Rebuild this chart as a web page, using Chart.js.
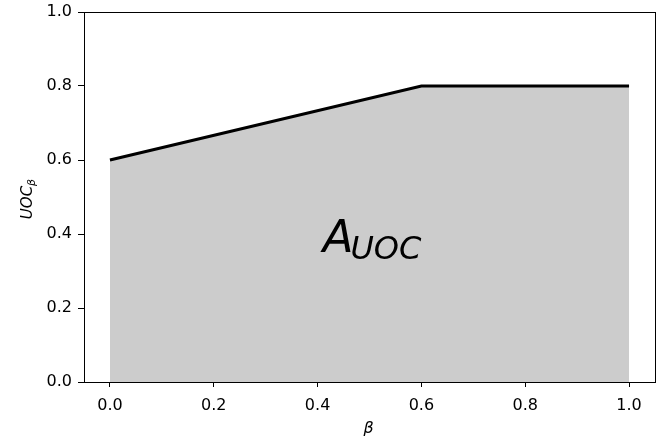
<!DOCTYPE html>
<html>
<head>
<meta charset="utf-8">
<script src="https://cdn.jsdelivr.net/npm/chart.js@4"></script>
<style>
html,body{margin:0;padding:0;background:#fff;}
canvas{display:block;}
</style>
</head>
<body>
<canvas id="c" width="667" height="443"></canvas>
<script>
const betaValues = [0.0, 0.6, 1.0];
const uocValues = [0.6, 0.8, 0.8];
const xTickValues = [0.0, 0.2, 0.4, 0.6, 0.8, 1.0];
const yTickValues = [0.0, 0.2, 0.4, 0.6, 0.8, 1.0];
const xLabel = 'β';
const yLabelMain = 'UOC';
const yLabelSub = 'β';
const areaLabelMain = 'A';
const areaLabelSub = 'UOC';
const areaLabelPos = [0.5, 0.4];

const FONT = '"DejaVu Sans", sans-serif';

const decorPlugin = {
  id: 'decor',
  afterDraw(chart) {
    const ctx = chart.ctx;
    const a = chart.chartArea;
    const xs = chart.scales.x, ys = chart.scales.y;
    ctx.save();
    ctx.strokeStyle = '#000';
    ctx.lineWidth = 1;
    ctx.strokeRect(Math.round(a.left) + 0.5, Math.round(a.top) + 0.5,
                   Math.round(a.right - a.left), Math.round(a.bottom - a.top));
    const cx = xs.getPixelForValue(areaLabelPos[0]);
    const cy = ys.getPixelForValue(areaLabelPos[1]);
    ctx.fillStyle = '#000';
    ctx.textBaseline = 'alphabetic';
    ctx.textAlign = 'left';
    const mainFont = 'italic 45px ' + FONT;
    const subFont = 'italic 32px ' + FONT;
    ctx.font = mainFont;
    const wA = ctx.measureText(areaLabelMain).width;
    ctx.font = subFont;
    const wS = ctx.measureText(areaLabelSub).width;
    const x0 = cx - (wA + wS) / 2 + 4;
    ctx.font = mainFont;
    ctx.fillText(areaLabelMain, x0, cy + 18);
    ctx.font = subFont;
    ctx.fillText(areaLabelSub, x0 + wA - 3, cy + 25);
    ctx.font = 'italic 16px ' + FONT;
    ctx.textAlign = 'center';
    ctx.fillText(xLabel, cx - 1, 433);
    ctx.translate(32, (a.top + a.bottom) / 2 + 2);
    ctx.rotate(-Math.PI / 2);
    ctx.font = 'italic 15px ' + FONT;
    const wM = ctx.measureText(yLabelMain).width;
    ctx.font = 'italic 11px ' + FONT;
    const wB = ctx.measureText(yLabelSub).width;
    const sx = -(wM + wB) / 2;
    ctx.textAlign = 'left';
    ctx.font = 'italic 15px ' + FONT;
    ctx.fillText(yLabelMain, sx, 0);
    ctx.font = 'italic 11px ' + FONT;
    ctx.fillText(yLabelSub, sx + wM, 3);
    ctx.restore();
  }
};

new Chart(document.getElementById('c'), {
  type: 'line',
  data: {
    datasets: [{
      data: betaValues.map((b, i) => ({x: b, y: uocValues[i]})),
      borderColor: '#000',
      borderWidth: 3,
      backgroundColor: '#cccccc',
      fill: 'origin',
      pointRadius: 0,
      tension: 0
    }]
  },
  options: {
    responsive: false,
    devicePixelRatio: 1,
    animation: false,
    layout: {padding: {left: 0, right: 12, top: 12, bottom: 0}},
    plugins: {legend: {display: false}, tooltip: {enabled: false}},
    scales: {
      x: {
        type: 'linear',
        min: -0.05,
        max: 1.05,
        afterBuildTicks(s) { s.ticks = xTickValues.map(v => ({value: v})); },
        afterFit(s) { s.height = 443 - 382; s.paddingLeft = 0; s.paddingRight = 0; },
        ticks: {
          color: '#000',
          font: {family: FONT, size: 16},
          padding: 9,
          maxRotation: 0,
          autoSkip: false,
          callback: v => v.toFixed(1)
        },
        grid: {display: true, drawOnChartArea: false, drawTicks: true, tickLength: 5, tickColor: '#000', tickWidth: 1},
        border: {display: true, color: '#000', width: 1}
      },
      y: {
        type: 'linear',
        min: 0,
        max: 1,
        afterBuildTicks(s) { s.ticks = yTickValues.map(v => ({value: v})); },
        afterFit(s) { s.width = 84; s.paddingTop = 0; s.paddingBottom = 0; },
        ticks: {
          color: '#000',
          font: {family: FONT, size: 16},
          padding: 6,
          autoSkip: false,
          callback: v => v.toFixed(1)
        },
        grid: {display: true, drawOnChartArea: false, drawTicks: true, tickLength: 6, tickColor: '#000', tickWidth: 1},
        border: {display: true, color: '#000', width: 1}
      }
    }
  },
  plugins: [decorPlugin]
});
</script>
</body>
</html>
